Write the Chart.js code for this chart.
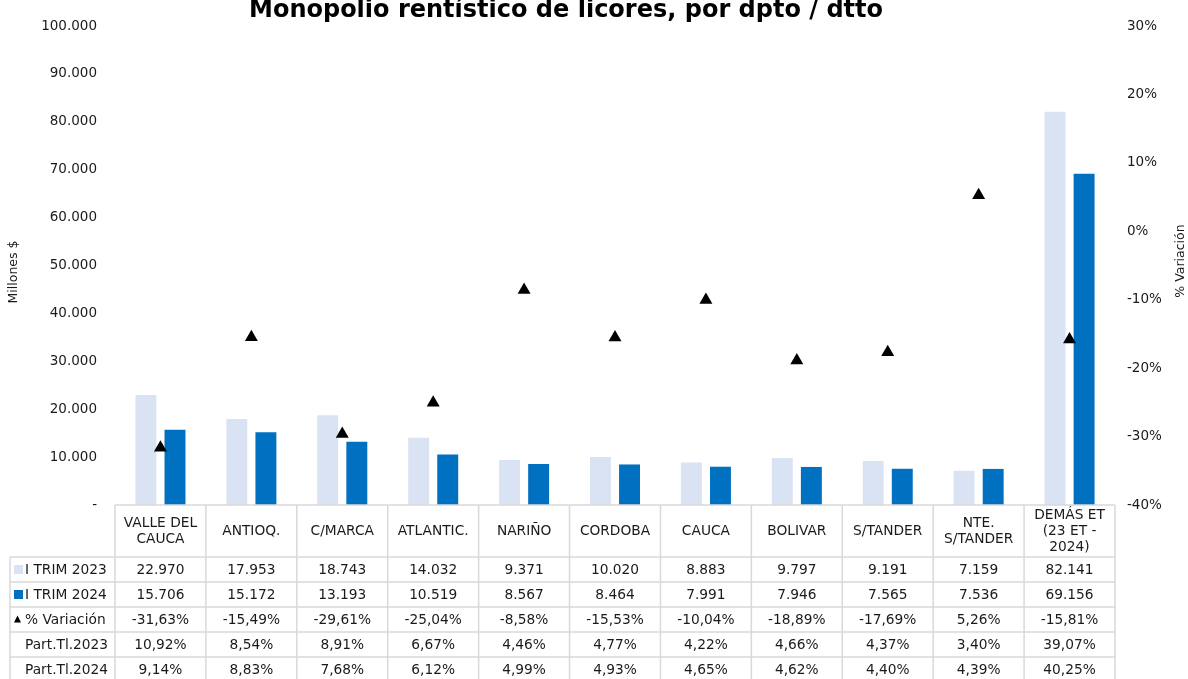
<!DOCTYPE html>
<html>
<head>
<meta charset="utf-8">
<script src="https://cdn.jsdelivr.net/npm/chart.js@4.4.1/dist/chart.umd.min.js"></script>
<style>
  html, body { margin: 0; padding: 0; background: #fff; }
  #wrap { width: 1188px; height: 679px; position: relative; }
</style>
</head>
<body>
<div id="wrap"><canvas id="c" width="1188" height="679"></canvas></div>
<script>
// ---- DATA ----
const chartTitle = 'Monopolio rentístico de licores, por dpto / dtto';
const leftAxisTitle = 'Millones $';
const rightAxisTitle = '% Variación';
const categories = [
  ['VALLE DEL', 'CAUCA'], ['ANTIOQ.'], ['C/MARCA'], ['ATLANTIC.'], ['NARIÑO'],
  ['CORDOBA'], ['CAUCA'], ['BOLIVAR'], ['S/TANDER'], ['NTE.', 'S/TANDER'],
  ['DEMÁS ET', '(23 ET -', '2024)']
];
const trim2023 = [22970, 17953, 18743, 14032, 9371, 10020, 8883, 9797, 9191, 7159, 82141];
const trim2024 = [15706, 15172, 13193, 10519, 8567, 8464, 7991, 7946, 7565, 7536, 69156];
const variacion = [-31.63, -15.49, -29.61, -25.04, -8.58, -15.53, -10.04, -18.89, -17.69, 5.26, -15.81];
const partTl2023 = [10.92, 8.54, 8.91, 6.67, 4.46, 4.77, 4.22, 4.66, 4.37, 3.40, 39.07];
const partTl2024 = [9.14, 8.83, 7.68, 6.12, 4.99, 4.93, 4.65, 4.62, 4.40, 4.39, 40.25];
const seriesNames = ['I TRIM 2023', 'I TRIM 2024', '% Variación', 'Part.Tl.2023', 'Part.Tl.2024'];
const leftTicks = { min: 0, max: 100000, step: 10000 };
const rightTicks = { min: -40, max: 30, step: 10 };

// ---- STYLE ----
const LIGHT = '#DAE3F3';
const DARK = '#0070C0';
const TXT = '#1a1a1a';
const GRID = '#D9D9D9';
const FONT = '"DejaVu Sans", Verdana, sans-serif';

function fmtThousands(v) {
  const s = Math.round(v).toString();
  return s.replace(/\B(?=(\d{3})+(?!\d))/g, '.');
}
function fmtPct(v) {
  return v.toFixed(2).replace('.', ',') + '%';
}

const tablePlugin = {
  id: 'tablePlugin',
  afterDraw(chart) {
    const ctx = chart.ctx;
    const xs = chart.scales.x;
    const area = chart.chartArea;
    const n = categories.length;
    const colW = (area.right - area.left) / n;
    const headTop = area.bottom;
    const headBot = headTop + 52;
    const rowH = 25;
    const labelLeft = 10;
    const tableBot = 679;

    ctx.save();
    // title
    ctx.fillStyle = '#000';
    ctx.font = 'bold 24px ' + FONT;
    ctx.textAlign = 'center';
    ctx.textBaseline = 'alphabetic';
    ctx.fillText(chartTitle, 566, 17);

    // axis titles
    ctx.fillStyle = TXT;
    ctx.font = '12.5px ' + FONT;
    ctx.textBaseline = 'middle';
    ctx.save();
    ctx.translate(14, 272);
    ctx.rotate(-Math.PI / 2);
    ctx.fillText(leftAxisTitle, 0, 0);
    ctx.restore();
    ctx.save();
    ctx.translate(1181, 261);
    ctx.rotate(-Math.PI / 2);
    ctx.fillText(rightAxisTitle, 0, 0);
    ctx.restore();

    // grid
    ctx.strokeStyle = GRID;
    ctx.lineWidth = 1.5;
    ctx.beginPath();
    ctx.moveTo(area.left, headTop); ctx.lineTo(area.right, headTop);
    for (let r = 0; r < 5; r++) {
      const y = headBot + r * rowH;
      ctx.moveTo(labelLeft, y); ctx.lineTo(area.right, y);
    }
    for (let i = 0; i <= n; i++) {
      const x = area.left + i * colW;
      ctx.moveTo(x, headTop); ctx.lineTo(x, tableBot);
    }
    ctx.moveTo(labelLeft, headBot); ctx.lineTo(labelLeft, tableBot);
    ctx.stroke();

    // header labels
    ctx.fillStyle = TXT;
    ctx.font = '13.75px ' + FONT;
    ctx.textAlign = 'center';
    ctx.textBaseline = 'middle';
    const headMid = (headTop + headBot) / 2;
    categories.forEach((lines, i) => {
      const cx = xs.getPixelForValue(i);
      const lh = 16;
      const y0 = headMid - (lines.length - 1) * lh / 2;
      lines.forEach((t, k) => ctx.fillText(t, cx, y0 + k * lh));
    });

    // rows
    const rows = [
      trim2023.map(fmtThousands),
      trim2024.map(fmtThousands),
      variacion.map(fmtPct),
      partTl2023.map(fmtPct),
      partTl2024.map(fmtPct)
    ];
    rows.forEach((vals, r) => {
      const cy = headBot + r * rowH + rowH / 2;
      vals.forEach((t, i) => {
        ctx.fillText(t, xs.getPixelForValue(i), cy + 0.5);
      });
    });

    // row labels with markers
    ctx.textAlign = 'left';
    seriesNames.forEach((name, r) => {
      const cy = headBot + r * rowH + rowH / 2;
      if (r === 0 || r === 1) {
        ctx.fillStyle = r === 0 ? LIGHT : DARK;
        ctx.fillRect(14, cy - 4.5, 9, 9);
      } else if (r === 2) {
        ctx.fillStyle = '#000';
        ctx.beginPath();
        ctx.moveTo(17.5, cy - 4);
        ctx.lineTo(21, cy + 3);
        ctx.lineTo(14, cy + 3);
        ctx.closePath();
        ctx.fill();
      }
      ctx.fillStyle = TXT;
      ctx.fillText(name, 25, cy + 0.5);
    });
    ctx.restore();
  }
};

new Chart(document.getElementById('c'), {
  data: {
    labels: categories.map(c => c.join(' ')),
    datasets: [
      {
        type: 'scatter',
        label: seriesNames[2],
        data: variacion.map((v, i) => ({ x: i, y: v })),
        yAxisID: 'y2',
        xAxisID: 'x',
        pointStyle: 'triangle',
        pointRadius: 7.5,
        pointHoverRadius: 7.5,
        backgroundColor: '#000',
        borderColor: '#000',
        borderWidth: 0,
        showLine: false,
        order: 0
      },
      {
        type: 'bar',
        label: seriesNames[0],
        data: trim2023,
        backgroundColor: LIGHT,
        yAxisID: 'y',
        barPercentage: 0.72,
        categoryPercentage: 0.64,
        order: 1
      },
      {
        type: 'bar',
        label: seriesNames[1],
        data: trim2024,
        backgroundColor: DARK,
        yAxisID: 'y',
        barPercentage: 0.72,
        categoryPercentage: 0.64,
        order: 1
      }
    ]
  },
  options: {
    responsive: false,
    animation: false,
    layout: { padding: { top: 22, bottom: 174, left: 0, right: 0 } },
    plugins: {
      legend: { display: false },
      title: { display: false },
      tooltip: { enabled: false }
    },
    scales: {
      x: {
        type: 'category',
        display: false,
        offset: true
      },
      y: {
        position: 'left',
        min: leftTicks.min,
        max: leftTicks.max,
        grid: { display: false, drawTicks: false },
        border: { display: false },
        ticks: {
          stepSize: leftTicks.step,
          padding: 18,
          color: TXT,
          font: { family: FONT, size: 13.5 },
          callback: v => v === 0 ? '-' : fmtThousands(v)
        },
        afterFit(scale) { scale.width = 115; }
      },
      y2: {
        position: 'right',
        min: rightTicks.min,
        max: rightTicks.max,
        grid: { display: false, drawTicks: false },
        border: { display: false },
        ticks: {
          stepSize: rightTicks.step,
          padding: 12,
          color: TXT,
          font: { family: FONT, size: 13.5 },
          callback: v => v + '%'
        },
        afterFit(scale) { scale.width = 73; }
      }
    }
  },
  plugins: [tablePlugin]
});
</script>
</body>
</html>
